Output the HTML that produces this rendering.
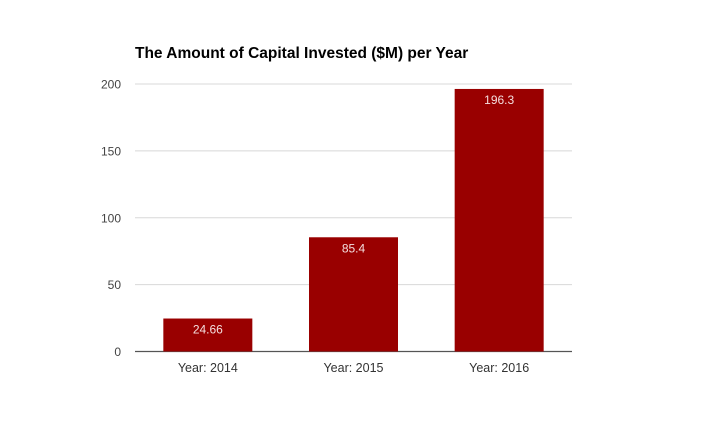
<!DOCTYPE html>
<html><head><meta charset="utf-8"><style>
body{margin:0;background:#fff;}
svg{display:block;font-family:"Liberation Sans",Arial,sans-serif;}
</style></head><body>
<svg id="chart" width="706" height="436" viewBox="0 0 706 436">
<text x="135" y="58" font-size="15.5" font-weight="bold" fill="#000">The Amount of Capital Invested ($M) per Year</text>
<g id="grid"></g><g id="bars"></g><g id="xl"></g>
</svg>
<script>
const categories=["Year: 2014","Year: 2015","Year: 2016"];
const values=[24.66,85.4,196.3];
const valueLabels=["24.66","85.4","196.3"];
const yTicks=[0,50,100,150,200];
const NS="http://www.w3.org/2000/svg";
const L=135,R=572,T=84,B=351.5,yMax=200;
const y=v=>B-(v/yMax)*(B-T);
const band=(R-L)/categories.length;
const x=i=>L+band*i+band/2;
function mk(t,a,p){const e=document.createElementNS(NS,t);for(const k in a)e.setAttribute(k,a[k]);p.appendChild(e);return e;}
const g=document.getElementById('grid'),bg=document.getElementById('bars'),xg=document.getElementById('xl');
yTicks.forEach(v=>{
  if(v!==0){const ln=mk('line',{x1:L,x2:R,y1:y(v),y2:y(v),stroke:'#d8d8d8','stroke-width':1},g);
  
  }
  const t=mk('text',{x:121,y:y(v)+4.5,'text-anchor':'end','font-size':12,fill:'#444'},g);
  t.textContent=v;
  
  
});
categories.forEach((c,i)=>{
  const w=89,top=y(values[i]);
  const r=mk('rect',{x:x(i)-w/2,y:top,width:w,height:B-top,fill:'#990000'},bg);
  
  
  const t=mk('text',{x:x(i),y:top+15,'text-anchor':'middle','font-size':12,fill:'#f4dede'},bg);
  t.textContent=valueLabels[i];
  
  
  const xl=mk('text',{x:x(i),y:372,'text-anchor':'middle','font-size':12.5,fill:'#333'},xg);
  xl.textContent=c;
  
  
});
const ax=mk('line',{x1:L,x2:R,y1:B,y2:B,stroke:'#555','stroke-width':1.3},g);


</script>
</body></html>
